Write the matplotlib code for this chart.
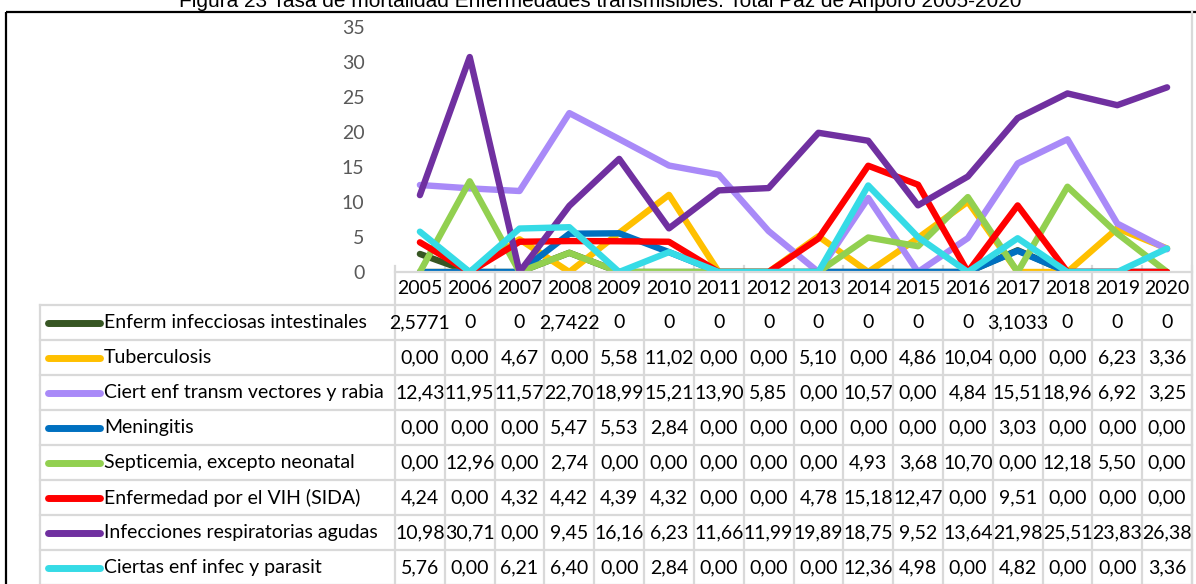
import matplotlib.pyplot as plt
from matplotlib.patches import Rectangle

# ----------------- data ----------------
years = list(range(2005, 2021))

names = ["Enferm infecciosas intestinales", "Tuberculosis",
         "Ciert enf transm vectores y rabia", "Meningitis",
         "Septicemia, excepto neonatal", "Enfermedad por el VIH (SIDA)",
         "Infecciones respiratorias agudas", "Ciertas enf infec y parasit"]

enferm = [2.5771, 0, 0, 2.7422, 0, 0, 0, 0, 0, 0, 0, 0, 3.1033, 0, 0, 0]
tuberc = [0, 0, 4.67, 0, 5.58, 11.02, 0, 0, 5.10, 0, 4.86, 10.04, 0, 0, 6.23, 3.36]
vectores = [12.43, 11.95, 11.57, 22.70, 18.99, 15.21, 13.90, 5.85, 0, 10.57, 0, 4.84, 15.51, 18.96, 6.92, 3.25]
mening = [0, 0, 0, 5.47, 5.53, 2.84, 0, 0, 0, 0, 0, 0, 3.03, 0, 0, 0]
septic = [0, 12.96, 0, 2.74, 0, 0, 0, 0, 0, 4.93, 3.68, 10.70, 0, 12.18, 5.50, 0]
vih = [4.24, 0, 4.32, 4.42, 4.39, 4.32, 0, 0, 4.78, 15.18, 12.47, 0, 9.51, 0, 0, 0]
resp = [10.98, 30.71, 0, 9.45, 16.16, 6.23, 11.66, 11.99, 19.89, 18.75, 9.52, 13.64, 21.98, 25.51, 23.83, 26.38]
parasit = [5.76, 0, 6.21, 6.40, 0, 2.84, 0, 0, 0, 12.36, 4.98, 0, 4.82, 0, 0, 3.36]

series = [enferm, tuberc, vectores, mening, septic, vih, resp, parasit]
colors = ["#375623", "#FFC000", "#A98AF8", "#0070C0",
          "#92D050", "#FF0000", "#7030A0", "#36DBE6"]

title = "Figura 23 Tasa de mortalidad Enfermedades transmisibles. Total Paz de Ariporo 2005-2020"


def fmt(v, first):
    # first row is in "general" format, the rest with 2 decimals
    if first:
        s = ("%.4f" % v).rstrip("0").rstrip(".") if v else "0"
    else:
        s = "%.2f" % v
    return s.replace(".", ",")


# ----------------- figure ----------------
W, H = 1196, 584
fig = plt.figure(figsize=(W / 100, H / 100), dpi=100)
font = "Lato"
fs = 14

# pixel layout
col_left, col_right = 395, 1192
col_w = (col_right - col_left) / len(years)
row_top, row_h = 305, 35
tab_left = 40

# background table/frame axes in pixel coords
tab = fig.add_axes([0, 0, 1, 1], zorder=0)
tab.set_xlim(0, W)
tab.set_ylim(H, 0)
tab.axis("off")

tab.add_patch(Rectangle((6, 12), 1200, 600, fill=False, ec="black", lw=1.6))
tab.text(W / 2 + 2, 7, title, ha="center", va="baseline", fontsize=15,
         family="Liberation Sans", color="black")

grid_c = "#D9D9D9"
n = len(names)
for i in range(n + 1):
    y = row_top + i * row_h
    tab.plot([tab_left, col_right], [y, y], color=grid_c, lw=1.6)
tab.plot([tab_left, tab_left], [row_top, H + 5], color=grid_c, lw=1.6)
for j in range(len(years) + 1):
    x = col_left + j * col_w
    tab.plot([x, x], [266, H + 5], color=grid_c, lw=1.6)
tab.plot([col_right, col_right], [12, H + 5], color=grid_c, lw=1.6)

# header years
for j, yr in enumerate(years):
    tab.text(col_left + (j + 0.5) * col_w, 289, str(yr), ha="center",
             va="center", fontsize=fs, family=font)

# rows: legend key, name, values
for i, (name, vals, c) in enumerate(zip(names, series, colors)):
    yc = row_top + (i + 0.5) * row_h
    tab.plot([48, 100], [yc, yc], color=c, lw=5, solid_capstyle="round")
    tab.text(104, yc, name, ha="left", va="center", fontsize=fs, family=font)
    for j, v in enumerate(vals):
        tab.text(col_left + (j + 0.5) * col_w, yc, fmt(v, i == 0),
                 ha="center", va="center", fontsize=fs, family=font)

# chart
ax = fig.add_axes([col_left / W, 1 - 272 / H, (col_right - col_left) / W, (272 - 27) / H],
                  zorder=1)
ax.patch.set_visible(False)
for vals, c in zip(series, colors):
    ax.plot(range(len(years)), vals, color=c, lw=4.6,
            solid_capstyle="round", solid_joinstyle="round")

ax.set_xlim(-0.5, len(years) - 0.5)
ax.set_ylim(0, 35)
ax.set_yticks(range(0, 36, 5))
ax.set_xticks([])
ax.tick_params(axis="y", length=0, pad=22, labelsize=fs, labelcolor="#595959")
for lbl in ax.get_yticklabels():
    lbl.set_family(font)
for s in ["top", "right", "left"]:
    ax.spines[s].set_visible(False)
ax.spines["bottom"].set_color(grid_c)
ax.spines["bottom"].set_linewidth(1.6)

plt.savefig("out.png", dpi=100)
